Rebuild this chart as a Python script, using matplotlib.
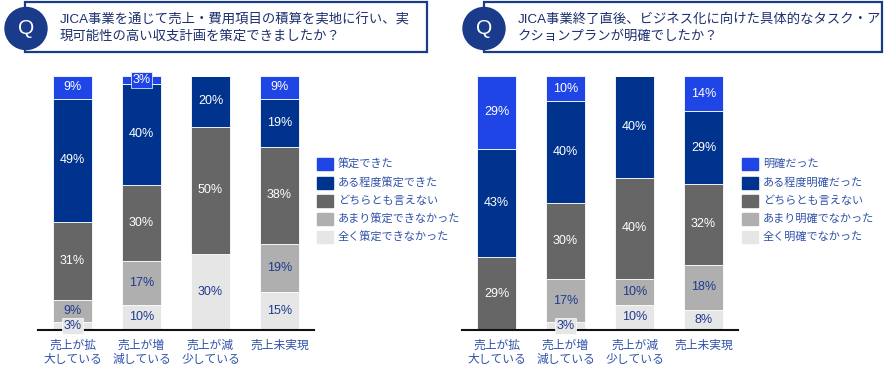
import matplotlib.pyplot as plt
from matplotlib.patches import Rectangle, Circle
import numpy as np

plt.rcParams['font.family'] = ['Liberation Sans', 'Noto Sans CJK JP']

# Data (bottom -> top order of stacked segments)
categories = ['売上が拡\n大している', '売上が増\n減している', '売上が減\n少している', '売上未実現']

left_title = 'JICA事業を通じて売上・費用項目の積算を実地に行い、実\n現可能性の高い収支計画を策定できましたか？'
left_labels = ['策定できた', 'ある程度策定できた', 'どちらとも言えない', 'あまり策定できなかった', '全く策定できなかった']
left_none = [3, 10, 30, 15]
left_little = [9, 17, 0, 19]
left_neutral = [31, 30, 50, 38]
left_some = [49, 40, 20, 19]
left_yes = [9, 3, 0, 9]

right_title = 'JICA事業終了直後、ビジネス化に向けた具体的なタスク・ア\nクションプランが明確でしたか？'
right_labels = ['明確だった', 'ある程度明確だった', 'どちらとも言えない', 'あまり明確でなかった', '全く明確でなかった']
right_none = [0, 3, 10, 8]
right_little = [0, 17, 10, 18]
right_neutral = [29, 30, 40, 32]
right_some = [43, 40, 40, 29]
right_yes = [29, 10, 0, 14]

# colours bottom -> top
colors = ['#e6e6e6', '#afafaf', '#666666', '#00338d', '#1f45e6']
text_colors = ['#1f3a8f', '#1f3a8f', 'white', 'white', 'white']
navy = '#1a3a8a'
label_blue = '#2f52a8'

fig = plt.figure(figsize=(8.86, 3.71), dpi=100)


def draw_panel(rect, series):
    ax = fig.add_axes(rect)
    data = np.array(series, dtype=float)
    totals = data.sum(axis=0)
    norm = data / totals * 100
    x = np.arange(len(categories))
    bottom = np.zeros(len(categories))
    for k in range(len(series)):
        ax.bar(x, norm[k], 0.565, bottom=bottom, color=colors[k],
               edgecolor='white', linewidth=0.6)
        for i in range(len(categories)):
            v = data[k][i]
            if v == 0:
                continue
            yc = bottom[i] + norm[k][i] / 2
            kw = {}
            if v < 5:
                kw['bbox'] = dict(boxstyle='square,pad=0.15', fc=colors[k], ec='white', lw=0.5)
            ax.text(x[i], yc, f'{int(v)}%', ha='center', va='center',
                    fontsize=9, color=text_colors[k], **kw)
        bottom += norm[k]
    ax.set_xlim(-0.5, 3.5)
    ax.set_ylim(0, 100)
    for s in ['top', 'right', 'left']:
        ax.spines[s].set_visible(False)
    ax.spines['bottom'].set_linewidth(1.5)
    ax.spines['bottom'].set_color('#111111')
    ax.set_yticks([])
    ax.set_xticks(x)
    ax.set_xticklabels(categories, fontsize=8.5, color=label_blue, va='top', linespacing=1.2)
    ax.tick_params(axis='x', length=0, pad=7)
    return ax


draw_panel([38 / 886, 1 - 330 / 371, 276 / 886, 254 / 371],
           [left_none, left_little, left_neutral, left_some, left_yes])
draw_panel([462 / 886, 1 - 330 / 371, 276 / 886, 254 / 371],
           [right_none, right_little, right_neutral, right_some, right_yes])

# overlay in pixel coordinates for boxes and legends
ov = fig.add_axes([0, 0, 1, 1], zorder=-1)
ov.set_xlim(0, 886)
ov.set_ylim(371, 0)
ov.axis('off')
ov.patch.set_alpha(0)

def title_box(x0, x1, cx, tx, text):
    ov.add_patch(Rectangle((x0, 2), x1 - x0, 50, fill=False, ec=navy, lw=1.6))
    ov.add_patch(Circle((cx + 1, 28.5), 21, color=navy, zorder=3))
    ov.text(cx + 1, 29, 'Q', color='white', fontsize=15, ha='center', va='center', zorder=4)
    ov.text(tx, 28, text, color='#1c2f6e', fontsize=9.6, ha='left', va='center', linespacing=1.45)

title_box(25, 427, 25, 60, left_title)
title_box(484, 882, 483, 518, right_title)

def legend(x, labels):
    ys = [164, 183, 201, 219, 237]
    for j, lab in enumerate(labels):
        ci = len(colors) - 1 - j
        ov.add_patch(Rectangle((x, ys[j] - 6), 16, 12, color=colors[ci]))
        ov.text(x + 21, ys[j], lab, fontsize=8, color=label_blue, ha='left', va='center')

legend(317, left_labels)
legend(742, right_labels)

fig.savefig('out.png', dpi=100)
